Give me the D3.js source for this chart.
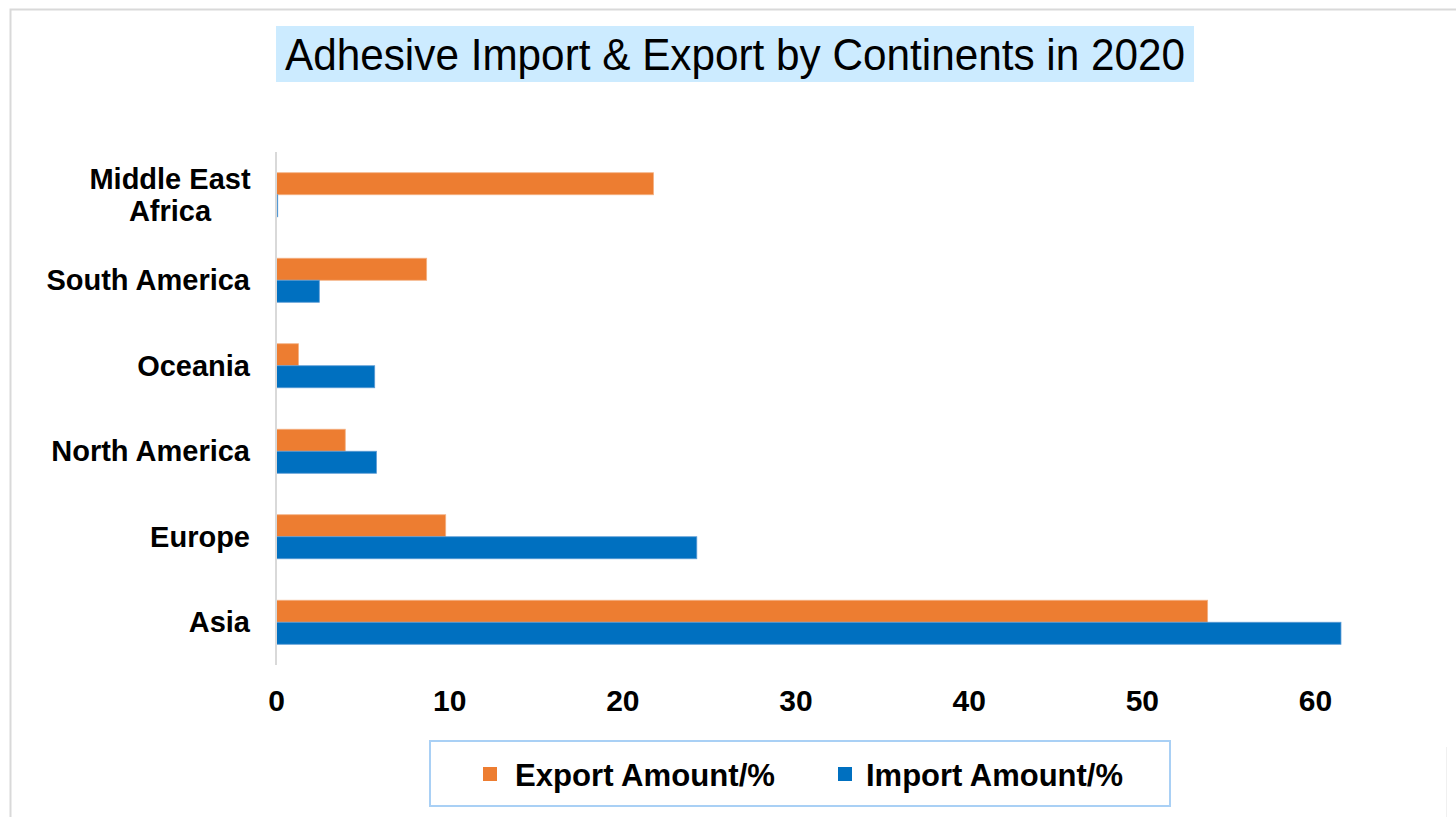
<!DOCTYPE html>
<html>
<head>
<meta charset="utf-8">
<script src="https://cdn.jsdelivr.net/npm/d3@7"></script>
<style>
  html, body { margin: 0; padding: 0; background: #fff; }
  svg { display: block; }
</style>
</head>
<body>
<svg id="chart" width="1456" height="817"></svg>
<script>
const categories = ["Middle East Africa", "South America", "Oceania", "North America", "Europe", "Asia"];
const categoryLines = [["Middle East", "Africa"], ["South America"], ["Oceania"], ["North America"], ["Europe"], ["Asia"]];
const seriesNames = ["Export Amount/%", "Import Amount/%"];
const exportValues = [21.8, 8.7, 1.3, 4.0, 9.8, 53.8];
const importValues = [0.1, 2.5, 5.7, 5.8, 24.3, 61.5];
const tickValues = [0, 10, 20, 30, 40, 50, 60];
const titleText = "Adhesive Import & Export by Continents in 2020";

const colors = { "Export Amount/%": "#ED7D31", "Import Amount/%": "#0070C0" };
const strokes = { "Export Amount/%": "#F4B183", "Import Amount/%": "#5B9BD5" };

const svg = d3.select("#chart");
const font = "'Liberation Sans', Arial, sans-serif";

// outer frame
svg.append("path").attr("d", "M10.5,817 L10.5,9.5 L1456,9.5")
  .attr("fill", "none").attr("stroke", "#d9d9d9").attr("stroke-width", 2);
svg.append("line").attr("x1", 1446.5).attr("x2", 1446.5).attr("y1", 747).attr("y2", 817)
  .attr("stroke", "#f0f0f0").attr("stroke-width", 1);

// title
svg.append("rect").attr("x", 276).attr("y", 26).attr("width", 918).attr("height", 56).attr("fill", "#CCEBFF");
svg.append("text").attr("x", 285).attr("y", 70)
  .attr("font-family", font).attr("font-size", 45).attr("fill", "#000")
  .attr("textLength", 900).attr("lengthAdjust", "spacingAndGlyphs")
  .text(titleText);

// scales
const x = d3.scaleLinear().domain([0, 60]).range([276, 1315]);
const y = d3.scaleBand().domain(categories).range([152, 665]).paddingInner(0.485).paddingOuter(0.2425);
const ySub = d3.scaleBand().domain(seriesNames).range([0, y.bandwidth()]);

const data = categories.map((c, i) => ({ cat: c, values: [
  { name: seriesNames[0], v: exportValues[i] },
  { name: seriesNames[1], v: importValues[i] }
]}));

const groups = svg.append("g").selectAll("g").data(data).join("g")
  .attr("transform", d => `translate(0,${y(d.cat)})`);
groups.selectAll("rect").data(d => d.values).join("rect")
  .attr("x", x(0))
  .attr("y", d => ySub(d.name))
  .attr("width", d => Math.max(x(d.v) - x(0), 1.5))
  .attr("height", ySub.bandwidth())
  .attr("fill", d => colors[d.name])
  .attr("stroke", d => strokes[d.name]).attr("stroke-width", 0.8);

// y axis line
svg.append("line").attr("x1", 276).attr("x2", 276).attr("y1", 152).attr("y2", 665)
  .attr("stroke", "#d9d9d9").attr("stroke-width", 2);

// category labels
const labelG = svg.append("g");
categories.forEach((c, i) => {
  const lines = categoryLines[i];
  const cy = y(c) + y.bandwidth() / 2;
  const lh = 32;
  const t = labelG.append("text")
    .attr("font-family", font).attr("font-size", 29).attr("font-weight", "bold")
    .attr("text-anchor", lines.length > 1 ? "middle" : "end").attr("fill", "#000");
  lines.forEach((ln, j) => {
    t.append("tspan").attr("x", lines.length > 1 ? 170 : 250)
      .attr("y", cy + 10 + (j - (lines.length - 1) / 2) * lh)
      .text(ln);
  });
});

// x axis (labels only)
const xAxis = d3.axisBottom(x).tickValues(tickValues).tickSize(0).tickPadding(0).tickFormat(d3.format("d"));
const xg = svg.append("g").attr("transform", "translate(0,711)").call(xAxis);
xg.select(".domain").remove();
xg.selectAll("text").attr("dy", 0).attr("font-family", font).attr("font-size", 30)
  .attr("font-weight", "bold").attr("fill", "#000");

// legend
svg.append("rect").attr("x", 430).attr("y", 741).attr("width", 740).attr("height", 65)
  .attr("fill", "#fff").attr("stroke", "#A9D0F5").attr("stroke-width", 2);
const legendItems = [
  { name: seriesNames[0], mx: 483, tx: 515, tw: 260 },
  { name: seriesNames[1], mx: 838, tx: 866, tw: 257 }
];
legendItems.forEach(it => {
  svg.append("rect").attr("x", it.mx).attr("y", 767).attr("width", 14).attr("height", 14)
    .attr("fill", colors[it.name]);
  svg.append("text").attr("x", it.tx).attr("y", 786)
    .attr("font-family", font).attr("font-size", 31).attr("font-weight", "bold")
    .attr("textLength", it.tw).attr("lengthAdjust", "spacingAndGlyphs")
    .attr("fill", "#000").text(it.name);
});
</script>
</body>
</html>
